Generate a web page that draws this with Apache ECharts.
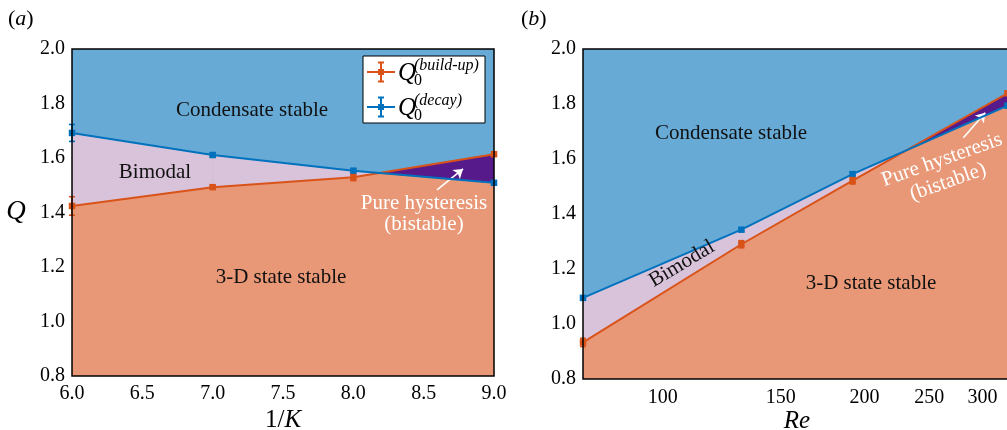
<!DOCTYPE html>
<html>
<head>
<meta charset="utf-8">
<script src="https://cdn.jsdelivr.net/npm/echarts@6/dist/echarts.min.js"></script>
<style>
html,body{margin:0;padding:0;background:#fff;}
#chart{width:1007px;height:430px;}
</style>
</head>
<body>
<div id="chart"></div>
<script>
// ---- data ----
const invK = [6, 7, 8, 9];
const qBuildA = [1.424, 1.493, 1.529, 1.614];
const qDecayA = [1.692, 1.611, 1.553, 1.509];
const errBuildA = [0.034, 0.006, 0.012, 0.006];
const errDecayA = [0.031, 0.006, 0.008, 0.006];

const reVals = [76, 131, 192, 327];
const qBuildB = [0.933, 1.290, 1.521, 1.839];
const qDecayB = [1.095, 1.343, 1.545, 1.794];
const errBuildB = [0.015, 0.013, 0.012, 0.006];
const errDecayB = [0.006, 0.006, 0.006, 0.006];

const reTickLabels = [100, 150, 200, 250, 300];
const reMinorTicks = [80, 90, 100, 110, 120, 130, 140, 150, 160, 170, 180, 190, 200, 210, 220, 230, 240, 250, 260, 270, 280, 290, 300, 310, 320];

// arrows (data coordinates)
const arrowA = [[8.595, 1.483], [8.78, 1.560]];
const arrowB = [[281, 1.677], [303, 1.768]];

// ---- styles ----
const FONT = "'Liberation Serif', 'DejaVu Serif', serif";
const C_BLUE_BG = '#67AAD6';
const C_SALMON = '#E89876';
const C_LAV = '#D8C3DB';
const C_PURPLE = '#571A8B';
const C_ORANGE = '#D95319';
const C_BLUE = '#0072BD';

const G = [
  {left: 72, top: 49, width: 422, height: 327},
  {left: 583, top: 49, width: 428, height: 330}
];

function zip(xs, ys) { return xs.map((x, i) => [x, ys[i]]); }

function areaSeries(xs, ys, idx) {
  return {
    type: 'line', xAxisIndex: idx, yAxisIndex: idx, data: zip(xs, ys),
    symbol: 'none', lineStyle: {width: 0}, silent: true,
    areaStyle: {color: C_SALMON, opacity: 1, origin: 'start'}, z: 1
  };
}

function betweenSeries(xs, oArr, bArr, idx) {
  return {
    type: 'custom', xAxisIndex: idx, yAxisIndex: idx, silent: true, z: 2,
    data: [[xs[0], oArr[0]]], clip: true,
    renderItem: function (params, api) {
      const children = [];
      for (let i = 0; i < xs.length - 1; i++) {
        const o0 = api.coord([xs[i], oArr[i]]), o1 = api.coord([xs[i + 1], oArr[i + 1]]);
        const b0 = api.coord([xs[i], bArr[i]]), b1 = api.coord([xs[i + 1], bArr[i + 1]]);
        const d0 = o0[1] - b0[1], d1 = o1[1] - b1[1];
        const col = d => d > 0 ? C_LAV : C_PURPLE;
        if (d0 * d1 >= 0) {
          const c = col(d0 + d1);
          children.push({type: 'polygon', shape: {points: [b0, b1, o1, o0]}, style: {fill: c, stroke: c, lineWidth: 0.5}});
        } else {
          const t = d0 / (d0 - d1);
          const p = [o0[0] + t * (o1[0] - o0[0]), o0[1] + t * (o1[1] - o0[1])];
          children.push({type: 'polygon', shape: {points: [b0, p, o0]}, style: {fill: col(d0), stroke: col(d0), lineWidth: 0.5}});
          children.push({type: 'polygon', shape: {points: [p, b1, o1]}, style: {fill: col(d1), stroke: col(d1), lineWidth: 0.5}});
        }
      }
      return {type: 'group', children: children};
    }
  };
}

function lineSeries(name, xs, ys, color, idx, arrow) {
  const s = {
    name: name, type: 'line', xAxisIndex: idx, yAxisIndex: idx, data: zip(xs, ys),
    symbol: 'rect', symbolSize: 6.5, itemStyle: {color: color},
    lineStyle: {color: color, width: 2}, z: 5, clip: false
  };
  if (arrow) {
    s.markLine = {
      silent: true, symbol: ['none', 'arrow'], symbolSize: 9, label: {show: false},
      lineStyle: {color: '#fff', width: 1.6, type: 'solid'},
      data: [[{coord: arrow[0]}, {coord: arrow[1]}]]
    };
  }
  return s;
}

function errSeries(xs, ys, errs, color, idx) {
  return {
    type: 'custom', xAxisIndex: idx, yAxisIndex: idx, silent: true, z: 6, clip: false,
    data: xs.map((x, i) => [x, ys[i] - errs[i], ys[i] + errs[i]]),
    encode: {x: 0, y: [1, 2]},
    renderItem: function (params, api) {
      const lo = api.coord([api.value(0), api.value(1)]);
      const hi = api.coord([api.value(0), api.value(2)]);
      const st = {stroke: color, lineWidth: 1.6};
      return {type: 'group', children: [
        {type: 'line', shape: {x1: lo[0], y1: lo[1], x2: hi[0], y2: hi[1]}, style: st},
        {type: 'line', shape: {x1: lo[0] - 3, y1: lo[1], x2: lo[0] + 3, y2: lo[1]}, style: st},
        {type: 'line', shape: {x1: hi[0] - 3, y1: hi[1], x2: hi[0] + 3, y2: hi[1]}, style: st}
      ]};
    }
  };
}

const labelStyle = {fontFamily: FONT, fontSize: 20, color: '#000'};

function yAxis(idx) {
  return {
    gridIndex: idx, type: 'value', min: 0.8, max: 2.0, interval: 0.2,
    axisLine: {show: false}, axisTick: {show: false}, splitLine: {show: false},
    axisLabel: Object.assign({formatter: v => v.toFixed(1), margin: 7}, labelStyle)
  };
}

function txt(x, y, text, opts, rotDeg) {
  const el = {
    type: 'text', x: x, y: y, z: 50, silent: true,
    style: Object.assign({text: text, fontFamily: FONT, fontSize: 21, fill: '#111', align: 'center', verticalAlign: 'middle'}, opts || {})
  };
  if (rotDeg) el.rotation = rotDeg * Math.PI / 180;
  return el;
}

function legendEntry(y, color, sup) {
  const st = {stroke: color, lineWidth: 2};
  return [
    {type: 'line', z: 61, shape: {x1: 367, y1: y, x2: 395, y2: y}, style: st},
    {type: 'line', z: 61, shape: {x1: 381, y1: y - 9.5, x2: 381, y2: y + 9.5}, style: st},
    {type: 'line', z: 61, shape: {x1: 378, y1: y - 9.5, x2: 384, y2: y - 9.5}, style: st},
    {type: 'line', z: 61, shape: {x1: 378, y1: y + 9.5, x2: 384, y2: y + 9.5}, style: st},
    {type: 'rect', z: 62, shape: {x: 378, y: y - 3, width: 6, height: 6}, style: {fill: color}},
    {type: 'text', z: 62, x: 398, y: y + 1, style: {text: 'Q', fontFamily: FONT, fontStyle: 'italic', fontSize: 25, fill: '#000', align: 'left', verticalAlign: 'middle'}},
    {type: 'text', z: 62, x: 414, y: y - 6, style: {text: sup, fontFamily: FONT, fontStyle: 'italic', fontSize: 16, fill: '#000', align: 'left', verticalAlign: 'middle'}},
    {type: 'text', z: 62, x: 414, y: y + 9, style: {text: '0', fontFamily: FONT, fontSize: 16, fill: '#000', align: 'left', verticalAlign: 'middle'}}
  ];
}

const chart = echarts.init(document.getElementById('chart'), null, {renderer: 'canvas'});

const option = {
  animation: false,
  backgroundColor: '#fff',
  textStyle: {fontFamily: FONT},
  grid: G.map(g => Object.assign({show: true, backgroundColor: C_BLUE_BG, borderWidth: 0, containLabel: false, outerBoundsMode: 'none'}, g)),
  xAxis: [
    {
      gridIndex: 0, type: 'value', min: 6, max: 9, interval: 0.5,
      axisLine: {show: false}, axisTick: {show: false}, splitLine: {show: false},
      axisLabel: Object.assign({formatter: v => v.toFixed(1), margin: 8}, labelStyle),
      name: '{n|1/}{i|K}', nameLocation: 'middle', nameGap: 32, nameMoveOverlap: false,
      nameTextStyle: {rich: {
        n: {fontFamily: FONT, fontSize: 25, color: '#000'},
        i: {fontFamily: FONT, fontSize: 25, color: '#000', fontStyle: 'italic'}
      }}
    },
    {
      gridIndex: 1, type: 'log', min: 76, max: 331,
      axisLine: {show: false}, splitLine: {show: false}, minorTick: {show: false},
      axisTick: {show: true, inside: true, length: 3, customValues: reMinorTicks, lineStyle: {color: '#777', width: 0.6}},
      axisLabel: Object.assign({customValues: reTickLabels, margin: 9, formatter: v => String(Math.round(v))}, labelStyle),
      name: 'Re', nameLocation: 'middle', nameGap: 30, nameMoveOverlap: false,
      nameTextStyle: {fontFamily: FONT, fontSize: 25, color: '#000', fontStyle: 'italic'}
    }
  ],
  yAxis: [yAxis(0), yAxis(1)],
  series: [
    areaSeries(invK, qBuildA, 0),
    areaSeries(invK, qDecayA, 0),
    betweenSeries(invK, qBuildA, qDecayA, 0),
    lineSeries('build-up', invK, qBuildA, C_ORANGE, 0, null),
    lineSeries('decay', invK, qDecayA, C_BLUE, 0, arrowA),
    errSeries(invK, qBuildA, errBuildA, C_ORANGE, 0),
    errSeries(invK, qDecayA, errDecayA, C_BLUE, 0),

    areaSeries(reVals, qBuildB, 1),
    areaSeries(reVals, qDecayB, 1),
    betweenSeries(reVals, qBuildB, qDecayB, 1),
    lineSeries('build-up', reVals, qBuildB, C_ORANGE, 1, null),
    lineSeries('decay', reVals, qDecayB, C_BLUE, 1, arrowB),
    errSeries(reVals, qBuildB, errBuildB, C_ORANGE, 1),
    errSeries(reVals, qDecayB, errDecayB, C_BLUE, 1)
  ],
  graphic: [
    // frames
    {type: 'rect', z: 40, silent: true, shape: {x: G[0].left, y: G[0].top, width: G[0].width, height: G[0].height}, style: {fill: 'none', stroke: '#000', lineWidth: 1.5}},
    {type: 'rect', z: 40, silent: true, shape: {x: G[1].left, y: G[1].top, width: G[1].width, height: G[1].height}, style: {fill: 'none', stroke: '#000', lineWidth: 1.5}},
    // panel labels
    {type: 'text', z: 50, x: 8, y: 19, style: {text: '{n|(}{i|a}{n|)}', align: 'left', verticalAlign: 'middle',
      rich: {n: {fontFamily: FONT, fontSize: 22, fill: '#000'}, i: {fontFamily: FONT, fontSize: 22, fontStyle: 'italic', fill: '#000'}}}},
    {type: 'text', z: 50, x: 521, y: 19, style: {text: '{n|(}{i|b}{n|)}', align: 'left', verticalAlign: 'middle',
      rich: {n: {fontFamily: FONT, fontSize: 22, fill: '#000'}, i: {fontFamily: FONT, fontSize: 22, fontStyle: 'italic', fill: '#000'}}}},
    // Q axis name
    {type: 'text', z: 50, x: 16, y: 212, style: {text: 'Q', fontFamily: FONT, fontStyle: 'italic', fontSize: 27, fill: '#000', align: 'center', verticalAlign: 'middle'}},
    // region labels, panel a
    txt(252, 110, 'Condensate stable'),
    txt(155, 172, 'Bimodal'),
    txt(281, 277, '3-D state stable'),
    txt(424, 203, 'Pure hysteresis', {fill: '#fff'}),
    txt(424, 224, '(bistable)', {fill: '#fff'}),
    // region labels, panel b
    txt(731, 133, 'Condensate stable'),
    txt(871, 283, '3-D state stable'),
    txt(682, 264, 'Bimodal', null, 31),
    txt(942, 160, 'Pure hysteresis', {fill: '#fff'}, 19.5),
    txt(948, 182, '(bistable)', {fill: '#fff'}, 19.5),
    // legend
    {type: 'rect', z: 60, silent: true, shape: {x: 363, y: 56, width: 122, height: 67}, style: {fill: '#fff', stroke: '#000', lineWidth: 1}},
    ...legendEntry(72, C_ORANGE, '(build-up)'),
    ...legendEntry(107, C_BLUE, '(decay)')
  ]
};

chart.setOption(option);
</script>
</body>
</html>
